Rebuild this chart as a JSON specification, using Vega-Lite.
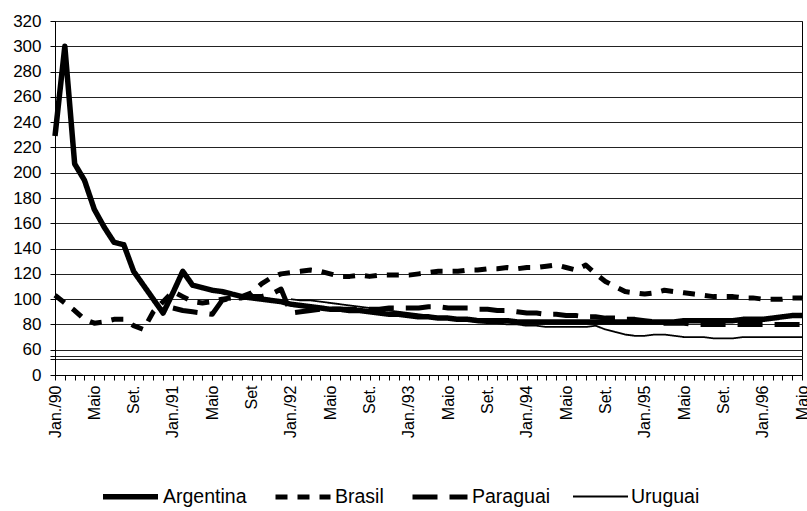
{
  "$schema": "https://vega.github.io/schema/vega-lite/v6.json",
  "width": 747,
  "height": 354,
  "autosize": {"type": "none"},
  "padding": {"left": 55, "top": 21, "right": 5, "bottom": 136},
  "background": "white",
  "config": {
    "view": {"stroke": "black", "strokeWidth": 1},
    "font": "Liberation Sans"
  },
  "data": {
    "values": [
      {"t": 0, "Argentina": 229, "Brasil": 103},
      {"t": 1, "Argentina": 300, "Brasil": 97},
      {"t": 2, "Argentina": 207, "Brasil": 91},
      {"t": 3, "Argentina": 194, "Brasil": 84},
      {"t": 4, "Argentina": 171, "Brasil": 81},
      {"t": 5, "Argentina": 157, "Brasil": 82},
      {"t": 6, "Argentina": 145, "Brasil": 84},
      {"t": 7, "Argentina": 143, "Brasil": 84},
      {"t": 8, "Argentina": 122, "Brasil": 79},
      {"t": 9, "Argentina": 111, "Brasil": 76},
      {"t": 10, "Argentina": 100, "Brasil": 90},
      {"t": 11, "Argentina": 89, "Brasil": 98},
      {"t": 12, "Argentina": 105, "Brasil": 106, "Paraguai": 93},
      {"t": 13, "Argentina": 122, "Brasil": 102, "Paraguai": 91},
      {"t": 14, "Argentina": 111, "Brasil": 98, "Paraguai": 90},
      {"t": 15, "Argentina": 109, "Brasil": 97, "Paraguai": 89},
      {"t": 16, "Argentina": 107, "Brasil": 98, "Paraguai": 88},
      {"t": 17, "Argentina": 106, "Brasil": 100, "Paraguai": 99},
      {"t": 18, "Argentina": 104, "Brasil": 101, "Paraguai": 101},
      {"t": 19, "Argentina": 102, "Brasil": 102, "Paraguai": 101},
      {"t": 20, "Argentina": 101, "Brasil": 105, "Paraguai": 102},
      {"t": 21, "Argentina": 100, "Brasil": 112, "Paraguai": 102},
      {"t": 22, "Argentina": 99, "Brasil": 117, "Paraguai": 104},
      {"t": 23, "Argentina": 98, "Brasil": 120, "Paraguai": 108},
      {"t": 24, "Argentina": 96, "Brasil": 121, "Paraguai": 89, "Uruguai": 100},
      {"t": 25, "Argentina": 95, "Brasil": 122, "Paraguai": 90, "Uruguai": 99},
      {"t": 26, "Argentina": 94, "Brasil": 123, "Paraguai": 91, "Uruguai": 99},
      {"t": 27, "Argentina": 93, "Brasil": 122, "Paraguai": 92, "Uruguai": 98},
      {"t": 28, "Argentina": 92, "Brasil": 120, "Paraguai": 92, "Uruguai": 97},
      {"t": 29, "Argentina": 92, "Brasil": 118, "Paraguai": 92, "Uruguai": 96},
      {"t": 30, "Argentina": 91, "Brasil": 118, "Paraguai": 92, "Uruguai": 95},
      {"t": 31, "Argentina": 91, "Brasil": 119, "Paraguai": 92, "Uruguai": 94},
      {"t": 32, "Argentina": 90, "Brasil": 118, "Paraguai": 92, "Uruguai": 93},
      {"t": 33, "Argentina": 89, "Brasil": 119, "Paraguai": 92, "Uruguai": 92},
      {"t": 34, "Argentina": 88, "Brasil": 119, "Paraguai": 93, "Uruguai": 91},
      {"t": 35, "Argentina": 88, "Brasil": 119, "Paraguai": 93, "Uruguai": 90},
      {"t": 36, "Argentina": 87, "Brasil": 119, "Paraguai": 93, "Uruguai": 89},
      {"t": 37, "Argentina": 86, "Brasil": 120, "Paraguai": 93, "Uruguai": 88},
      {"t": 38, "Argentina": 86, "Brasil": 121, "Paraguai": 94, "Uruguai": 87},
      {"t": 39, "Argentina": 85, "Brasil": 122, "Paraguai": 94, "Uruguai": 86},
      {"t": 40, "Argentina": 85, "Brasil": 122, "Paraguai": 93, "Uruguai": 85},
      {"t": 41, "Argentina": 84, "Brasil": 122, "Paraguai": 93, "Uruguai": 84},
      {"t": 42, "Argentina": 84, "Brasil": 123, "Paraguai": 93, "Uruguai": 83},
      {"t": 43, "Argentina": 83, "Brasil": 123, "Paraguai": 92, "Uruguai": 82},
      {"t": 44, "Argentina": 83, "Brasil": 124, "Paraguai": 92, "Uruguai": 81},
      {"t": 45, "Argentina": 83, "Brasil": 124, "Paraguai": 91, "Uruguai": 81},
      {"t": 46, "Argentina": 83, "Brasil": 125, "Paraguai": 91, "Uruguai": 80},
      {"t": 47, "Argentina": 82, "Brasil": 124, "Paraguai": 90, "Uruguai": 80},
      {"t": 48, "Argentina": 82, "Brasil": 125, "Paraguai": 89, "Uruguai": 79},
      {"t": 49, "Argentina": 82, "Brasil": 125, "Paraguai": 89, "Uruguai": 79},
      {"t": 50, "Argentina": 82, "Brasil": 126, "Paraguai": 88, "Uruguai": 78},
      {"t": 51, "Argentina": 82, "Brasil": 127, "Paraguai": 88, "Uruguai": 78},
      {"t": 52, "Argentina": 82, "Brasil": 125, "Paraguai": 87, "Uruguai": 78},
      {"t": 53, "Argentina": 82, "Brasil": 123, "Paraguai": 87, "Uruguai": 78},
      {"t": 54, "Argentina": 82, "Brasil": 127, "Paraguai": 86, "Uruguai": 78},
      {"t": 55, "Argentina": 82, "Brasil": 120, "Paraguai": 86, "Uruguai": 79},
      {"t": 56, "Argentina": 82, "Brasil": 114, "Paraguai": 85, "Uruguai": 76},
      {"t": 57, "Argentina": 82, "Brasil": 110, "Paraguai": 85, "Uruguai": 74},
      {"t": 58, "Argentina": 82, "Brasil": 106, "Paraguai": 84, "Uruguai": 72},
      {"t": 59, "Argentina": 82, "Brasil": 105, "Paraguai": 84, "Uruguai": 71},
      {"t": 60, "Argentina": 82, "Brasil": 104, "Paraguai": 83, "Uruguai": 71},
      {"t": 61, "Argentina": 82, "Brasil": 105, "Paraguai": 82, "Uruguai": 72},
      {"t": 62, "Argentina": 82, "Brasil": 107, "Paraguai": 81, "Uruguai": 72},
      {"t": 63, "Argentina": 82, "Brasil": 106, "Paraguai": 81, "Uruguai": 71},
      {"t": 64, "Argentina": 83, "Brasil": 105, "Paraguai": 81, "Uruguai": 70},
      {"t": 65, "Argentina": 83, "Brasil": 104, "Paraguai": 80, "Uruguai": 70},
      {"t": 66, "Argentina": 83, "Brasil": 103, "Paraguai": 80, "Uruguai": 70},
      {"t": 67, "Argentina": 83, "Brasil": 102, "Paraguai": 80, "Uruguai": 69},
      {"t": 68, "Argentina": 83, "Brasil": 102, "Paraguai": 80, "Uruguai": 69},
      {"t": 69, "Argentina": 83, "Brasil": 102, "Paraguai": 80, "Uruguai": 69},
      {"t": 70, "Argentina": 84, "Brasil": 101, "Paraguai": 80, "Uruguai": 70},
      {"t": 71, "Argentina": 84, "Brasil": 101, "Paraguai": 80, "Uruguai": 70},
      {"t": 72, "Argentina": 84, "Brasil": 100, "Paraguai": 80, "Uruguai": 70},
      {"t": 73, "Argentina": 85, "Brasil": 100, "Paraguai": 80, "Uruguai": 70},
      {"t": 74, "Argentina": 86, "Brasil": 100, "Paraguai": 80, "Uruguai": 70},
      {"t": 75, "Argentina": 87, "Brasil": 101, "Paraguai": 80, "Uruguai": 70},
      {"t": 76, "Argentina": 87, "Brasil": 101, "Paraguai": 80, "Uruguai": 70}
    ]
  },
  "transform": [
    {"fold": ["Argentina", "Brasil", "Paraguai", "Uruguai"], "as": ["pais", "valor"]}
  ],
  "mark": {"type": "line", "color": "black", "strokeCap": "butt", "strokeJoin": "round"},
  "encoding": {
    "x": {
      "field": "t",
      "type": "quantitative",
      "scale": {"domain": [0, 76], "nice": false, "zero": false},
      "axis": {
        "title": null,
        "values": [0,1,2,3,4,5,6,7,8,9,10,11,12,13,14,15,16,17,18,19,20,21,22,23,24,25,26,27,28,29,30,31,32,33,34,35,36,37,38,39,40,41,42,43,44,45,46,47,48,49,50,51,52,53,54,55,56,57,58,59,60,61,62,63,64,65,66,67,68,69,70,71,72,73,74,75,76],
        "grid": false,
        "domainColor": "black",
        "tickColor": "black",
        "tickSize": 5,
        "labelAngle": -90,
        "labelFontSize": 16,
        "labelColor": "black",
        "labelPadding": 5,
        "labelOverlap": false,
        "labelFlush": false,
        "labelExpr": "datum.value % 4 == 0 ? ['Jan./90','Maio','Set.','Jan./91','Maio','Set','Jan./92','Maio','Set.','Jan./93','Maio','Set.','Jan./94','Maio','Set.','Jan./95','Maio','Set.','Jan./96','Maio'][datum.value / 4] : ''"
      }
    },
    "y": {
      "field": "valor",
      "type": "quantitative",
      "scale": {"domain": [40, 320], "nice": false, "zero": false},
      "axis": {
        "title": null,
        "values": [40, 53, 55, 60, 80, 100, 120, 140, 160, 180, 200, 220, 240, 260, 280, 300, 320],
        "grid": true,
        "gridColor": "#222222",
        "gridWidth": 1,
        "domainColor": "black",
        "tickColor": "black",
        "tickSize": 5,
        "labelFontSize": 17,
        "labelColor": "black",
        "labelPadding": 9,
        "labelExpr": "datum.value == 40 ? '0' : (datum.value < 60 ? '' : datum.label)"
      }
    },
    "strokeDash": {
      "field": "pais",
      "type": "nominal",
      "scale": {
        "domain": ["Argentina", "Brasil", "Paraguai", "Uruguai"],
        "range": [[1, 0], [12, 10], [25, 12], [1, 0]]
      },
      "legend": {
        "title": null,
        "orient": "none",
        "legendX": 45,
        "legendY": 445,
        "direction": "horizontal",
        "symbolType": "stroke",
        "symbolSize": 3025,
        "symbolStrokeColor": "black",
        "labelFontSize": 19.5,
        "labelColor": "black",
        "labelOffset": 2,
        "columnPadding": 18
      }
    },
    "strokeWidth": {
      "field": "pais",
      "type": "nominal",
      "scale": {
        "type": "ordinal",
        "domain": ["Argentina", "Brasil", "Paraguai", "Uruguai"],
        "range": [5.5, 5, 5, 1.8]
      },
      "legend": {
        "title": null,
        "orient": "none",
        "legendX": 45,
        "legendY": 445,
        "direction": "horizontal",
        "symbolType": "stroke",
        "symbolSize": 3025,
        "symbolStrokeColor": "black",
        "labelFontSize": 19.5,
        "labelColor": "black",
        "labelOffset": 2,
        "columnPadding": 18
      }
    }
  }
}
